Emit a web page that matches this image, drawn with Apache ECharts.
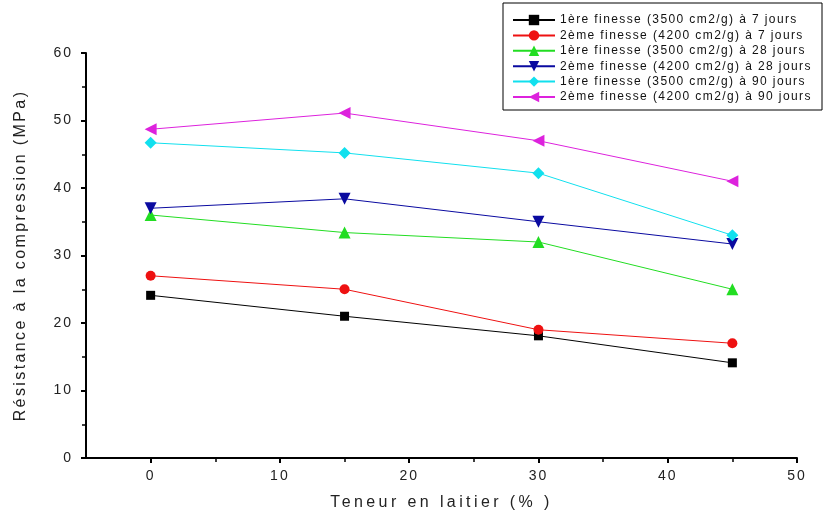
<!DOCTYPE html>
<html><head><meta charset="utf-8">
<script src="https://cdn.jsdelivr.net/npm/echarts@6/dist/echarts.min.js"></script>
<style>html,body{margin:0;padding:0;background:#fff}#c{width:826px;height:519px}</style>
</head><body><div id="c"></div>
<script>
const xValues = [0, 15, 30, 45];
const xMajorTicks = [0, 10, 20, 30, 40, 50];
const xMinorTicks = [5, 15, 25, 35, 45];
const yTickLabels = ['0', '10', '20', '30', '40', '50', '60'];
const seriesNames = [
  "1ère finesse (3500 cm2/g) à 7 jours",
  "2ème finesse (4200 cm2/g) à 7 jours",
  "1ère finesse (3500 cm2/g) à 28 jours",
  "2ème finesse (4200 cm2/g) à 28 jours",
  "1ère finesse (3500 cm2/g) à 90 jours",
  "2ème finesse (4200 cm2/g) à 90 jours"
];
const f1_7 = [24.1, 21.0, 18.1, 14.1];
const f2_7 = [27.0, 25.0, 19.0, 17.0];
const f1_28 = [36.0, 33.4, 32.0, 25.0];
const f2_28 = [37.0, 38.4, 35.0, 31.7];
const f1_90 = [46.7, 45.2, 42.2, 33.0];
const f2_90 = [48.7, 51.1, 47.0, 41.0];
const allValues = [f1_7, f2_7, f1_28, f2_28, f1_90, f2_90];
const colors = ["#000000", "#ee1111", "#22dd22", "#0a0aa0", "#11e0ee", "#dd22dd"];
const symbols = ["rect", "circle", "triangle", "triangle", "diamond", "triangle"];
const rotations = [0, 0, 0, 180, 0, 90];
const sizes = [9, 10, 12, 12, 12, 12];
const xTitle = 'Teneur en laitier (% )';
const yTitle = 'Résistance à la compression (MPa)';
const FONT = 'Liberation Sans, Arial, sans-serif';

// letter spacing for the spaced-out texts (canvas native letterSpacing)
const spacing = {};
spacing[xTitle] = '3.4px';
spacing[yTitle] = '2.4px';
seriesNames.forEach(n => { spacing[n] = '1.4px'; });
yTickLabels.forEach(n => { spacing[n] = '2px'; });
const origFillText = CanvasRenderingContext2D.prototype.fillText;
CanvasRenderingContext2D.prototype.fillText = function (text, x, y, maxW) {
  if ('letterSpacing' in this) this.letterSpacing = spacing[text] || '0px';
  const r = maxW === undefined ? origFillText.call(this, text, x, y) : origFillText.call(this, text, x, y, maxW);
  if ('letterSpacing' in this) this.letterSpacing = '0px';
  return r;
};

const chart = echarts.init(document.getElementById('c'), null, {renderer: 'canvas'});
chart.setOption({
  animation: false,
  grid: {left: 86, right: 29, top: 53, bottom: 61},
  legend: {
    orient: 'vertical', left: 503, top: 3,
    padding: [10, 8, 6, 9],
    borderColor: '#000', borderWidth: 1,
    itemWidth: 42, itemHeight: 13, itemGap: 1.4,
    textStyle: {fontFamily: FONT, fontSize: 12, color: '#111', lineHeight: 14, width: 254, overflow: 'none'},
    data: seriesNames
  },
  xAxis: [{
    type: 'value', min: -5, max: 50, interval: 5,
    name: xTitle, nameLocation: 'middle', nameGap: 37,
    nameTextStyle: {fontFamily: FONT, fontSize: 16, color: '#222'},
    axisLine: {show: true, onZero: false, lineStyle: {color: '#000', width: 2}},
    axisTick: {show: true, length: 5, customValues: xMajorTicks, lineStyle: {width: 2, color: '#000'}},
    axisLabel: {fontFamily: FONT, fontSize: 14, color: '#222', margin: 11, customValues: xMajorTicks},
    splitLine: {show: false}
  }, {
    type: 'value', min: -5, max: 50, interval: 5, position: 'bottom',
    axisLine: {show: false, onZero: false},
    axisTick: {show: true, length: 4, customValues: xMinorTicks, lineStyle: {width: 1.5, color: '#000'}},
    axisLabel: {show: false},
    splitLine: {show: false}
  }],
  yAxis: {
    type: 'value', min: 0, max: 60, interval: 10,
    name: yTitle, nameLocation: 'middle', nameGap: 57,
    nameTextStyle: {fontFamily: FONT, fontSize: 16, color: '#222'},
    axisLine: {show: true, onZero: false, lineStyle: {color: '#000', width: 2}},
    axisTick: {show: true, length: 5, lineStyle: {width: 2, color: '#000'}},
    minorTick: {show: true, splitNumber: 2, length: 4, lineStyle: {width: 1.5, color: '#000'}},
    axisLabel: {fontFamily: FONT, fontSize: 14, color: '#222', margin: 13},
    splitLine: {show: false}
  },
  series: seriesNames.map((n, i) => ({
    name: n, type: 'line', xAxisIndex: 0,
    data: xValues.map((x, j) => [x, allValues[i][j]]),
    symbol: symbols[i], symbolSize: sizes[i], symbolRotate: rotations[i],
    showAllSymbol: true,
    lineStyle: {color: colors[i], width: 1},
    itemStyle: {color: colors[i]},
    z: 2 + i
  }))
});
</script></body></html>
